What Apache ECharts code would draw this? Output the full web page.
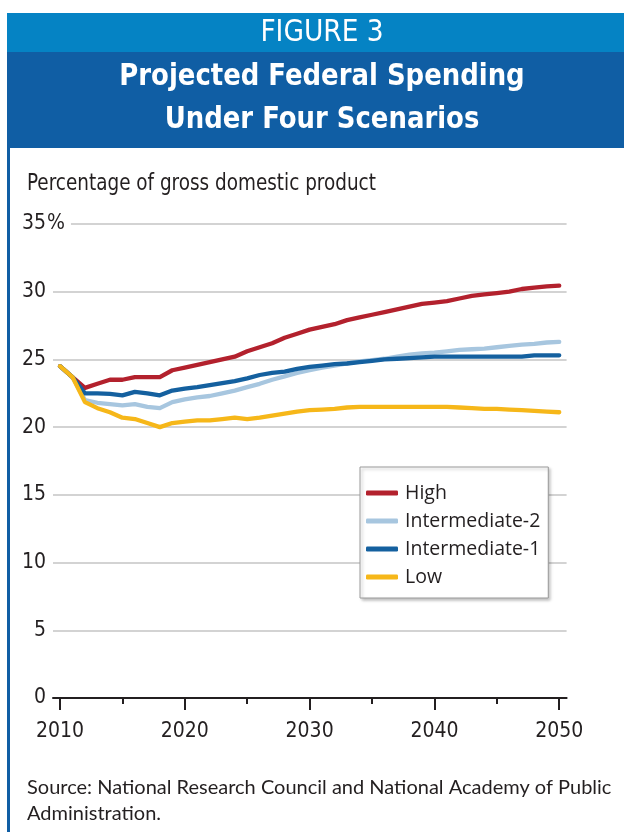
<!DOCTYPE html>
<html>
<head>
<meta charset="utf-8">
<script src="https://cdn.jsdelivr.net/npm/echarts@6/dist/echarts.min.js"></script>
<style>
html,body{margin:0;padding:0;background:#fff;}
#chart{width:624px;height:832px;}
</style>
</head>
<body>
<div id="chart"></div>
<script>
const years = [];
for (let y = 2010; y <= 2050; y++) years.push(y);

const seriesNames = ['High', 'Intermediate-2', 'Intermediate-1', 'Low'];
const high = [24.5,23.7,22.9,23.2,23.5,23.5,23.7,23.7,23.7,24.2,24.4,24.6,24.8,25.0,25.2,25.6,25.9,26.2,26.6,26.9,27.2,27.4,27.6,27.9,28.1,28.3,28.5,28.7,28.9,29.1,29.2,29.3,29.5,29.7,29.8,29.9,30.0,30.2,30.3,30.4,30.45];
const intermediate2 = [24.5,23.7,22.0,21.8,21.7,21.6,21.7,21.5,21.4,21.85,22.05,22.2,22.3,22.5,22.7,22.95,23.2,23.5,23.75,24.0,24.2,24.4,24.55,24.7,24.85,24.95,25.05,25.2,25.35,25.45,25.5,25.6,25.7,25.75,25.8,25.9,26.0,26.1,26.15,26.25,26.3];
const intermediate1 = [24.5,23.7,22.5,22.5,22.45,22.35,22.6,22.5,22.35,22.7,22.85,22.95,23.1,23.25,23.4,23.6,23.85,24.0,24.1,24.3,24.45,24.55,24.65,24.7,24.8,24.9,25.0,25.05,25.1,25.15,25.2,25.2,25.2,25.2,25.2,25.2,25.2,25.2,25.3,25.3,25.3];
const low = [24.5,23.7,21.85,21.4,21.1,20.7,20.6,20.3,20.0,20.3,20.4,20.5,20.5,20.6,20.7,20.6,20.7,20.85,21.0,21.15,21.25,21.3,21.35,21.45,21.5,21.5,21.5,21.5,21.5,21.5,21.5,21.5,21.45,21.4,21.35,21.35,21.3,21.25,21.2,21.15,21.1];

const xMajorTicks = [2010, 2020, 2030, 2040, 2050];
const xMinorTicks = [2015, 2025, 2035, 2045];
const yTicks = [0, 5, 10, 15, 20, 25, 30, 35];

const headerLabel = 'FIGURE 3';
const titleLines = ['Projected Federal Spending', 'Under Four Scenarios'];
const yAxisTitle = 'Percentage of gross domestic product';
const sourceLines = ['Source: National Research Council and National Academy of Public', 'Administration.'];

const colors = ['#b3212d', '#a7c6df', '#14609f', '#f6b719'];
const valuesList = [high, intermediate2, intermediate1, low];

const narrow = "'Liberation Sans Narrow','DejaVu Sans Condensed','Roboto Condensed',sans-serif";
const xMin = 2009.44, xMax = 2050.59;

const chart = echarts.init(document.getElementById('chart'), null, {renderer: 'canvas'});

const series = valuesList.map((vals, i) => ({
  name: seriesNames[i],
  type: 'line',
  xAxisIndex: 0,
  yAxisIndex: 0,
  data: years.map((y, k) => [y, vals[k]]),
  showSymbol: false,
  symbol: 'none',
  lineStyle: {color: colors[i], width: 4.3, cap: 'round', join: 'round'},
  itemStyle: {color: colors[i]},
  emphasis: {disabled: true},
  animation: false
}));

const txt = (text, x, y, font, opts) => Object.assign({
  type: 'text', silent: true, x: x, y: y,
  style: {text: text, x: 0, y: 0, align: 'center', verticalAlign: 'middle', fill: '#fff', font: font}
}, opts || {});

const option = {
  animation: false,
  textStyle: {fontFamily: narrow},
  graphic: [
    {type: 'rect', shape: {x: 7, y: 13, width: 617, height: 39}, style: {fill: '#0583c4'}, silent: true},
    {type: 'rect', shape: {x: 7, y: 52, width: 617, height: 96}, style: {fill: '#105ea4'}, silent: true},
    {type: 'rect', shape: {x: 7, y: 148, width: 3, height: 684}, style: {fill: '#105ea4'}, silent: true},
    txt(headerLabel, 322, 33, "30px " + narrow, {scaleX: 0.98}),
    txt(titleLines[0], 322, 77, "bold 31px " + narrow, {scaleX: 0.93}),
    txt(titleLines[1], 322, 120, "bold 31px " + narrow, {scaleX: 0.93}),
    {type: 'text', silent: true, x: 27, y: 184, scaleX: 0.89,
      style: {text: yAxisTitle, x: 0, y: 0, align: 'left', verticalAlign: 'middle', fill: '#231f20', font: "23px " + narrow}},
    {type: 'text', silent: true, style: {text: sourceLines[0], x: 27, y: 788, align: 'left', verticalAlign: 'middle', fill: '#231f20', font: "20px Lato, 'Open Sans', sans-serif"}},
    {type: 'text', silent: true, style: {text: sourceLines[1], x: 27, y: 814, align: 'left', verticalAlign: 'middle', fill: '#231f20', font: "20px Lato, 'Open Sans', sans-serif"}}
  ],
  legend: {
    show: true,
    orient: 'vertical',
    left: 360,
    top: 467,
    data: seriesNames,
    icon: 'roundRect',
    itemWidth: 32,
    itemHeight: 5,
    itemGap: 8,
    padding: [16, 8, 11, 6],
    backgroundColor: '#fff',
    borderColor: '#9a9a9a',
    borderWidth: 1,
    borderRadius: 0,
    shadowBlur: 3,
    shadowColor: 'rgba(0,0,0,0.25)',
    shadowOffsetX: 2,
    shadowOffsetY: 2,
    selectedMode: false,
    textStyle: {fontFamily: "'Open Sans', Lato, sans-serif", fontSize: 19.5, color: '#231f20', padding: [0, 0, 0, 2]}
  },
  grid: {left: 53, right: 57.4, top: 224, bottom: 134, containLabel: false},
  xAxis: [
    {
      type: 'value', min: xMin, max: xMax, position: 'bottom',
      axisLine: {show: true, onZero: false, lineStyle: {color: '#231f20', width: 2}},
      axisTick: {show: true, customValues: xMajorTicks, length: 12, lineStyle: {color: '#231f20', width: 2}},
      axisLabel: {show: true, customValues: xMajorTicks, margin: 23, fontSize: 21, color: '#231f20', fontFamily: narrow, formatter: v => String(v)},
      splitLine: {show: false}
    },
    {
      type: 'value', min: xMin, max: xMax, position: 'bottom',
      axisLine: {show: false, onZero: false},
      axisTick: {show: true, customValues: xMinorTicks, length: 6, lineStyle: {color: '#231f20', width: 2}},
      axisLabel: {show: false},
      splitLine: {show: false}
    }
  ],
  yAxis: {
    type: 'value', min: 0, max: 35, interval: 5,
    axisLine: {show: false},
    axisTick: {show: false},
    axisLabel: {show: true, margin: 7, fontSize: 21, color: '#231f20', fontFamily: narrow, formatter: v => String(v)},
    splitLine: {show: true, lineStyle: {color: '#c4c4c4', width: 1.5}}
  },
  series: series
};

chart.setOption(option);

// Percent sign after the top tick label, positioned from the axis scale
const p = chart.convertToPixel({xAxisIndex: 0, yAxisIndex: 0}, [xMin, yTicks[yTicks.length - 1]]);
const extra = option.graphic.concat([{
  type: 'text', z: 100,
  style: {text: '%', x: p[0] - 6, y: p[1], align: 'left', verticalAlign: 'middle', fill: '#231f20',
    font: "21px " + narrow, backgroundColor: '#fff', padding: [2, 6, 2, 0]}
}]);
chart.setOption({graphic: extra});
</script>
</body>
</html>
